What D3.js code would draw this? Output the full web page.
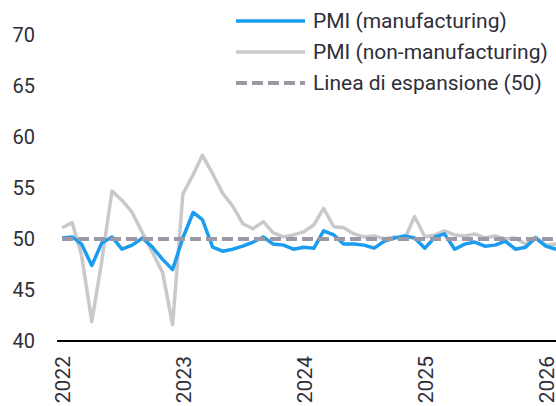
<!DOCTYPE html>
<html>
<head>
<meta charset="utf-8">
<script src="https://cdn.jsdelivr.net/npm/d3@7"></script>
<style>
  body { margin: 0; background: #fff; }
  text { font-family: Roboto, "Noto Sans", sans-serif; fill: #2e2e38; }
</style>
</head>
<body>
<script>
var width = 556;
var height = 406;

// monthly, Jan 2022 - Feb 2026
var months = [
  '2022-01','2022-02','2022-03','2022-04','2022-05','2022-06','2022-07','2022-08','2022-09','2022-10','2022-11','2022-12',
  '2023-01','2023-02','2023-03','2023-04','2023-05','2023-06','2023-07','2023-08','2023-09','2023-10','2023-11','2023-12',
  '2024-01','2024-02','2024-03','2024-04','2024-05','2024-06','2024-07','2024-08','2024-09','2024-10','2024-11','2024-12',
  '2025-01','2025-02','2025-03','2025-04','2025-05','2025-06','2025-07','2025-08','2025-09','2025-10','2025-11','2025-12',
  '2026-01','2026-02'
];

var pmiManufacturing = [
  50.1, 50.2, 49.5, 47.4, 49.6, 50.2, 49.0, 49.4, 50.1, 49.2, 48.0, 47.0,
  50.1, 52.6, 51.9, 49.2, 48.8, 49.0, 49.3, 49.7, 50.2, 49.5, 49.4, 49.0,
  49.2, 49.1, 50.8, 50.4, 49.5, 49.5, 49.4, 49.1, 49.8, 50.1, 50.3, 50.1,
  49.1, 50.2, 50.5, 49.0, 49.5, 49.7, 49.3, 49.4, 49.8, 49.0, 49.2, 50.1,
  49.3, 49.0
];

var pmiNonManufacturing = [
  51.1, 51.6, 48.4, 41.9, 47.8, 54.7, 53.8, 52.6, 50.6, 48.7, 46.7, 41.6,
  54.4, 56.3, 58.2, 56.4, 54.5, 53.2, 51.5, 51.0, 51.7, 50.6, 50.2, 50.4,
  50.7, 51.4, 53.0, 51.2, 51.1, 50.5, 50.2, 50.3, 50.0, 50.2, 50.0, 52.2,
  50.2, 50.4, 50.8, 50.4, 50.3, 50.5, 50.1, 50.3, 50.0, 50.1, 49.5, 50.2,
  49.4, 49.5
];

var expansionLevel = 50;
var yTicks = [40, 45, 50, 55, 60, 65, 70];
var yearTicks = ['2022-01', '2023-01', '2024-01', '2025-01', '2026-01'];

var legendLabels = ['PMI (manufacturing)', 'PMI (non-manufacturing)', 'Linea di espansione (50)'];

var blue = '#1a9df0',
    grey = '#c9c9cd',
    dash = '#9b99a6';

var parseMonth = d3.timeParse('%Y-%m');
var dates = months.map(parseMonth);

var svg = d3.select('body').append('svg')
  .attr('width', width)
  .attr('height', height);

var x = d3.scaleTime()
  .domain(d3.extent(dates))
  .range([62, 556]);

var y = d3.scaleLinear()
  .domain([40, 70])
  .range([341, 35]);

// y labels
svg.append('g')
  .attr('transform', 'translate(35,0)')
  .call(d3.axisLeft(y).tickValues(yTicks).tickSize(0).tickPadding(0))
  .call(function(g){
    g.select('.domain').remove();
    g.selectAll('text')
      .style('font-family', 'Roboto, sans-serif')
      .style('font-size', '20px')
      .attr('fill', '#2e2e38');
  });

// x axis
svg.append('line')
  .attr('x1', 57)
  .attr('x2', width)
  .attr('y1', y(40))
  .attr('y2', y(40))
  .attr('stroke', '#000')
  .attr('stroke-width', 2);

svg.append('g')
  .attr('transform', 'translate(0,' + y(40) + ')')
  .call(d3.axisBottom(x).tickValues(yearTicks.map(parseMonth)).tickSize(0).tickFormat(d3.timeFormat('%Y')))
  .call(function(g){
    g.select('.domain').remove();
    g.selectAll('text')
      .style('font-family', 'Roboto, sans-serif')
      .style('font-size', '21px')
      .attr('fill', '#2e2e38')
      .attr('text-anchor', 'end')
      .attr('transform', 'rotate(-90)')
      .attr('x', -15)
      .attr('y', 0)
      .attr('dy', '0.36em');
  });

var line = d3.line()
  .x(function(d, i){ return x(dates[i]); })
  .y(function(d){ return y(d); });

svg.append('path')
  .datum(pmiNonManufacturing)
  .attr('fill', 'none')
  .attr('stroke', grey)
  .attr('stroke-width', 3.5)
  .attr('stroke-linejoin', 'round')
  .attr('d', line);

svg.append('path')
  .datum(pmiManufacturing)
  .attr('fill', 'none')
  .attr('stroke', blue)
  .attr('stroke-width', 3.5)
  .attr('stroke-linejoin', 'round')
  .attr('d', line);

svg.append('path')
  .datum(months.map(function(){ return expansionLevel; }))
  .attr('fill', 'none')
  .attr('stroke', dash)
  .attr('stroke-width', 4)
  .attr('stroke-dasharray', '11,5')
  .attr('d', line);

// legend
var legend = svg.append('g');
var legendStyles = [
  {color: blue, dash: null, w: 3.5},
  {color: grey, dash: null, w: 3.5},
  {color: dash, dash: '11,5', w: 4}
];

legendLabels.forEach(function(label, i){
  var ly = 21 + i * 31;
  legend.append('line')
    .attr('x1', 236).attr('x2', 305)
    .attr('y1', ly).attr('y2', ly)
    .attr('stroke', legendStyles[i].color)
    .attr('stroke-width', legendStyles[i].w)
    .attr('stroke-dasharray', legendStyles[i].dash);
  legend.append('text')
    .attr('x', 313)
    .attr('y', ly)
    .attr('dy', '0.35em')
    .style('font-size', '21px')
    .text(label);
});
</script>
</body>
</html>
